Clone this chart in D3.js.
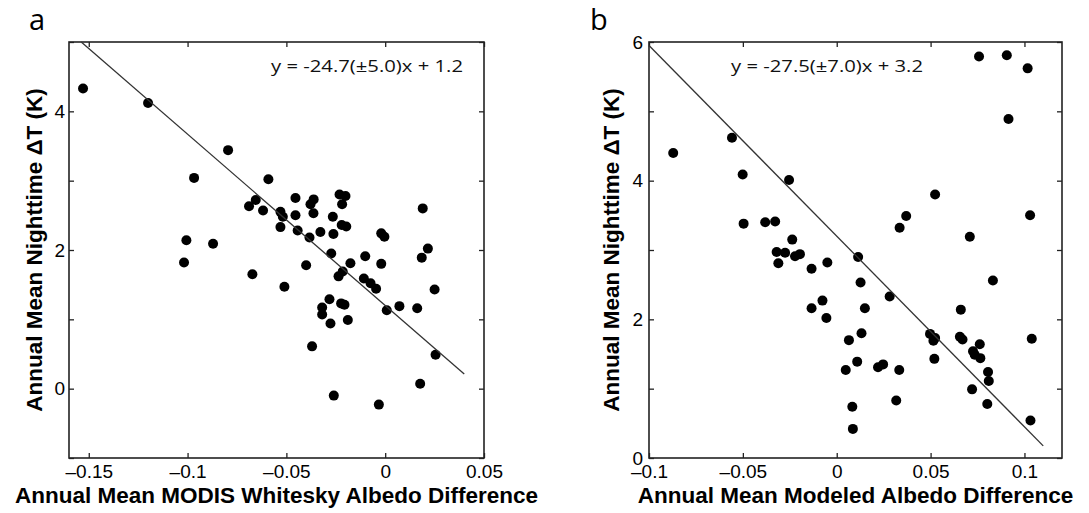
<!DOCTYPE html>
<html>
<head>
<meta charset="utf-8">
<script src="https://cdn.jsdelivr.net/npm/d3@7"></script>
<style>
  html, body { margin: 0; padding: 0; background: #fff; }
  svg { display: block; }
  .tick text { font-family: "Liberation Sans", Arial, sans-serif; font-size: 19px; fill: #000; }
  .tick line { stroke: #222; stroke-width: 1.3; }
  .axis-title { font-family: "Liberation Sans", Arial, sans-serif; font-weight: bold; font-size: 22.5px; fill: #000; }
  .eq { font-family: "Open Sans", Lato, sans-serif; font-size: 17px; fill: #111; }
  .panel-label { font-family: "Open Sans", Lato, sans-serif; font-size: 29px; fill: #000; }
</style>
</head>
<body>
<div id="chart"></div>
<script>
// ── Data ───────────────────────────────────────────────────────────────────

// a: MODIS whitesky albedo difference vs nighttime dT
const albedoA = [
  -0.1529, -0.1200, -0.0795, -0.0967, -0.0591, -0.0655, -0.0689, -0.0618, -0.1006, -0.0871,
  -0.1018, -0.0672, -0.0454, -0.0362, -0.0378, -0.0530, -0.0518, -0.0454, -0.0363, -0.0231,
  -0.0201, -0.0218, -0.0265, -0.0220, -0.0197, -0.0530, -0.0443, -0.0383, -0.0328, -0.0262,
  -0.0020, -0.0004,  0.0190,  0.0216, -0.0273, -0.0101, -0.0400, -0.0510, -0.0176, -0.0020,
   0.0185, -0.0215, -0.0236, -0.0108, -0.0074, -0.0046,  0.0250, -0.0282, -0.0223, -0.0206,
  -0.0319, -0.0319, -0.0277, -0.0189,  0.0008,  0.0072,  0.0162, -0.0370,  0.0255,  0.0177,
  -0.0260, -0.0032
];
const dTA = [
  4.33, 4.12, 3.44, 3.04, 3.02, 2.72, 2.63, 2.57, 2.14, 2.09,
  1.82, 1.65, 2.75, 2.73, 2.66, 2.55, 2.48, 2.50, 2.53, 2.80,
  2.78, 2.66, 2.48, 2.36, 2.34, 2.33, 2.28, 2.18, 2.26, 2.23,
  2.24, 2.19, 2.60, 2.02, 1.95, 1.91, 1.78, 1.47, 1.81, 1.80,
  1.89, 1.69, 1.62, 1.59, 1.52, 1.44, 1.43, 1.29, 1.23, 1.21,
  1.17, 1.07, 0.94, 0.99, 1.13, 1.19, 1.16, 0.61, 0.49, 0.07,
  -0.10, -0.23
];

// b: modeled albedo difference vs nighttime dT
const albedoB = [
  -0.0871, -0.0558, -0.0501, -0.0254, -0.0496, -0.0381, -0.0328, -0.0237,
  -0.0320, -0.0275, -0.0311, -0.0222, -0.0196, -0.0134, -0.0050, -0.0076, -0.0134, -0.0055,
   0.0114,  0.0127,  0.0282,  0.0150,  0.0132,  0.0065,  0.0109,  0.0048,  0.0220,  0.0247,
   0.0333,  0.0083,  0.0086,  0.0317,
   0.0497,  0.0524,  0.0515,  0.0520,
   0.0661,  0.0656,  0.0670,  0.0762,  0.0726,  0.0735,  0.0765,  0.0806,  0.0810,  0.0721,
   0.0802,  0.0832,  0.1039,  0.1032,
   0.0758,  0.0906,  0.1017,  0.0915,  0.0524,  0.0370,  0.0335,  0.1030,  0.0709
];
const dTB = [
  4.40, 4.62, 4.09, 4.01, 3.38, 3.40, 3.41, 3.15,
  2.97, 2.96, 2.81, 2.91, 2.94, 2.73, 2.82, 2.27, 2.16, 2.02,
  2.90, 2.53, 2.33, 2.16, 1.80, 1.70, 1.39, 1.27, 1.31, 1.35,
  1.27, 0.74, 0.42, 0.83,
  1.79, 1.73, 1.69, 1.43,
  2.14, 1.75, 1.71, 1.64, 1.54, 1.49, 1.44, 1.24, 1.11, 0.99,
  0.78, 2.56, 1.72, 0.54,
  5.79, 5.81, 5.62, 4.89, 3.80, 3.49, 3.32, 3.50, 3.19
];

// regression lines: slope, intercept and x extent of the drawn segment
const fitA = { slope: -24.7, intercept: 1.2, from: -0.1538, to: 0.040 };
const fitB = { slope: -27.5, intercept: 3.2, from: -0.100,  to: 0.110 };

const eqA = 'y = -24.7(\u00b15.0)x + 1.2';
const eqB = 'y = -27.5(\u00b17.0)x + 3.2';

const xTicksA = [-0.15, -0.1, -0.05, 0, 0.05];
const xTicksB = [-0.1, -0.05, 0, 0.05, 0.1];
const yTicksA = [-1, 0, 1, 2, 3, 4, 5];
const yTicksB = [0, 1, 2, 3, 4, 5, 6];
const yLabelsA = [0, 2, 4];
const yLabelsB = [0, 2, 4, 6];

const xTitleA = 'Annual Mean MODIS Whitesky Albedo Difference';
const xTitleB = 'Annual Mean Modeled Albedo Difference';
const yTitle  = 'Annual Mean Nighttime \u0394T (K)';

// ── Drawing ────────────────────────────────────────────────────────────────

const W = 1089, H = 513;

const svg = d3.select('#chart').append('svg')
  .attr('width', W)
  .attr('height', H);

function fmtTick(v) {
  if (v === 0) return '0';
  return (v < 0 ? '\u2013' : '') + String(Math.abs(v));
}

function drawPanel(p) {
  const x = d3.scaleLinear().domain(p.xDomain).range([p.left, p.right]);
  const y = d3.scaleLinear().domain(p.yDomain).range([p.bottom, p.top]);
  const g = svg.append('g');

  // inward ticks on all four sides
  g.append('g')
    .attr('transform', `translate(0,${p.bottom})`)
    .call(d3.axisBottom(x).tickValues(p.xTicks).tickSize(-5).tickPadding(7).tickFormat(fmtTick))
    .call(a => a.select('.domain').remove());

  g.append('g')
    .attr('transform', `translate(0,${p.top})`)
    .call(d3.axisTop(x).tickValues(p.xTicks).tickSize(-5).tickFormat(''))
    .call(a => a.select('.domain').remove());

  g.append('g')
    .attr('transform', `translate(${p.left},0)`)
    .call(d3.axisLeft(y).tickValues(p.yTicks).tickSize(-5).tickPadding(p.yPad)
      .tickFormat(v => p.yLabels.includes(v) ? String(v) : ''))
    .call(a => a.select('.domain').remove());

  g.append('g')
    .attr('transform', `translate(${p.right},0)`)
    .call(d3.axisRight(y).tickValues(p.yTicks).tickSize(-5).tickFormat(''))
    .call(a => a.select('.domain').remove());

  g.append('rect')
    .attr('x', p.left).attr('y', p.top)
    .attr('width', p.right - p.left).attr('height', p.bottom - p.top)
    .attr('fill', 'none')
    .attr('stroke', '#222')
    .attr('stroke-width', 1.6);

  // points
  g.append('g').selectAll('circle')
    .data(p.xs.map((v, i) => [v, p.ys[i]]))
    .join('circle')
    .attr('cx', d => x(d[0]))
    .attr('cy', d => y(d[1]))
    .attr('r', 5)
    .attr('fill', '#000');

  // fit line
  const f = p.fit;
  g.append('line')
    .attr('x1', x(f.from)).attr('y1', y(f.slope * f.from + f.intercept))
    .attr('x2', x(f.to)).attr('y2', y(f.slope * f.to + f.intercept))
    .attr('stroke', '#333')
    .attr('stroke-width', 1.3);

  // equation
  g.append('text')
    .attr('class', 'eq')
    .attr('x', p.eqX).attr('y', 72)
    .attr('textLength', 192)
    .attr('lengthAdjust', 'spacingAndGlyphs')
    .text(p.eq);

  // axis titles
  g.append('text')
    .attr('class', 'axis-title')
    .attr('x', (p.left + p.right) / 2)
    .attr('y', 503)
    .attr('text-anchor', 'middle')
    .text(p.xTitle);

  g.append('text')
    .attr('class', 'axis-title')
    .attr('transform', `translate(${p.yTitleX},${(85 + 415) / 2}) rotate(-90)`)
    .attr('text-anchor', 'middle')
    .text(yTitle);

  g.append('text')
    .attr('class', 'panel-label')
    .attr('x', p.labelX).attr('y', 30)
    .text(p.label);
}

drawPanel({
  xs: albedoA, ys: dTA, fit: fitA, eq: eqA, eqX: 271,
  xDomain: [-0.16, 0.05], yDomain: [-1, 5],
  left: 69, right: 484, top: 42, bottom: 458,
  xTicks: xTicksA, yTicks: yTicksA, yLabels: yLabelsA, yPad: 4,
  xTitle: xTitleA, yTitleX: 42, label: 'a', labelX: 29
});

drawPanel({
  xs: albedoB, ys: dTB, fit: fitB, eq: eqB, eqX: 731,
  xDomain: [-0.1, 0.12], yDomain: [0, 6],
  left: 649, right: 1062, top: 42, bottom: 458,
  xTicks: xTicksB, yTicks: yTicksB, yLabels: yLabelsB, yPad: 6,
  xTitle: xTitleB, yTitleX: 619, label: 'b', labelX: 590
});
</script>
</body>
</html>
